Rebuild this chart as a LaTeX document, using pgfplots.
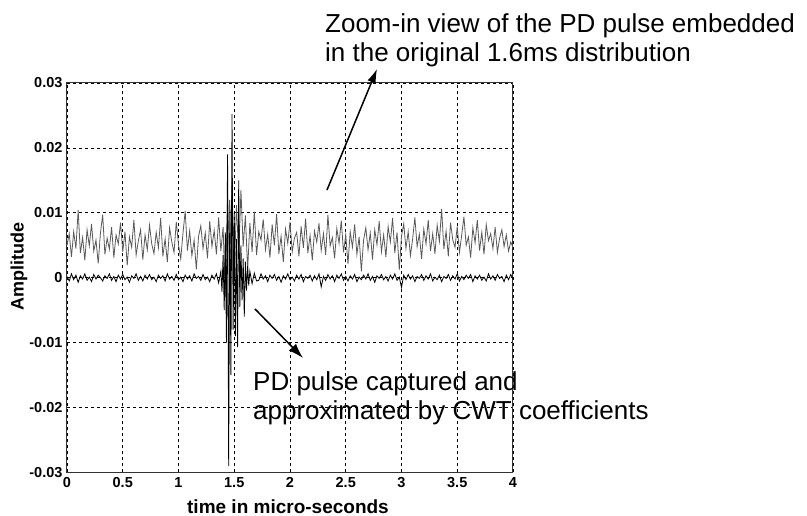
\documentclass[border=0pt]{standalone}
\usepackage{fontspec}
\setmainfont{Liberation Sans}
\usepackage{pgfplots}
\pgfplotsset{compat=1.18}
\usepackage{pgfplotstable}
\usetikzlibrary{arrows.meta}

% Recorded signal (offset trace), sampled every 0.02 us from 0 to 4 us
\pgfplotstableread[row sep=\\]{
y\\
0.0050\\ 0.0068\\ 0.0032\\ 0.0071\\ 0.0045\\ 0.0104\\ 0.0038\\ 0.0062\\ 0.0027\\ 0.0074\\
0.0049\\ 0.0083\\ 0.0041\\ 0.0058\\ 0.0022\\ 0.0069\\ 0.0097\\ 0.0036\\ 0.0061\\ 0.0044\\
0.0078\\ 0.0031\\ 0.0066\\ 0.0052\\ 0.0085\\ 0.0040\\ 0.0071\\ 0.0019\\ 0.0063\\ 0.0047\\
0.0089\\ 0.0035\\ 0.0057\\ 0.0074\\ 0.0028\\ 0.0066\\ 0.0043\\ 0.0081\\ 0.0052\\ 0.0037\\
0.0070\\ 0.0046\\ 0.0092\\ 0.0033\\ 0.0060\\ 0.0024\\ 0.0077\\ 0.0055\\ 0.0039\\ 0.0086\\
0.0051\\ 0.0029\\ 0.0068\\ 0.0103\\ 0.0042\\ 0.0072\\ 0.0034\\ 0.0058\\ 0.0013\\ 0.0064\\
0.0080\\ 0.0045\\ 0.0069\\ 0.0030\\ 0.0087\\ 0.0048\\ 0.0073\\ 0.0036\\ 0.0093\\ 0.0041\\
0.0078\\ -0.0030\\ 0.0125\\ 0.0020\\ 0.0148\\ 0.0005\\ 0.0112\\ 0.0032\\ 0.0135\\ 0.0048\\
0.0096\\ 0.0012\\ 0.0084\\ 0.0040\\ 0.0102\\ 0.0035\\ 0.0071\\ 0.0058\\ 0.0090\\ 0.0043\\
0.0067\\ 0.0031\\ 0.0082\\ 0.0050\\ 0.0098\\ 0.0037\\ 0.0064\\ 0.0024\\ 0.0075\\ 0.0053\\
0.0086\\ 0.0040\\ 0.0061\\ 0.0070\\ 0.0033\\ 0.0079\\ 0.0046\\ 0.0091\\ 0.0038\\ 0.0065\\
0.0027\\ 0.0072\\ 0.0055\\ 0.0084\\ 0.0042\\ 0.0068\\ 0.0035\\ 0.0097\\ 0.0049\\ 0.0062\\
0.0030\\ 0.0076\\ 0.0053\\ 0.0088\\ 0.0039\\ 0.0066\\ 0.0021\\ 0.0071\\ 0.0047\\ 0.0082\\
0.0036\\ 0.0063\\ 0.0010\\ 0.0058\\ 0.0077\\ 0.0043\\ 0.0069\\ 0.0028\\ 0.0074\\ 0.0051\\
0.0087\\ 0.0040\\ 0.0066\\ 0.0032\\ 0.0079\\ 0.0055\\ 0.0092\\ 0.0038\\ 0.0070\\ 0.0012\\
0.0064\\ 0.0083\\ 0.0045\\ 0.0071\\ 0.0034\\ 0.0060\\ 0.0093\\ 0.0048\\ 0.0067\\ 0.0029\\
0.0075\\ 0.0052\\ 0.0089\\ 0.0041\\ 0.0068\\ 0.0037\\ 0.0081\\ 0.0056\\ 0.0106\\ 0.0044\\
0.0072\\ 0.0033\\ 0.0085\\ 0.0058\\ 0.0047\\ 0.0079\\ 0.0039\\ 0.0066\\ 0.0094\\ 0.0050\\
0.0063\\ 0.0031\\ 0.0077\\ 0.0054\\ 0.0089\\ 0.0042\\ 0.0070\\ 0.0036\\ 0.0082\\ 0.0057\\
0.0068\\ 0.0045\\ 0.0078\\ 0.0039\\ 0.0061\\ 0.0074\\ 0.0048\\ 0.0066\\ 0.0041\\ 0.0055\\
0.0047\\
}\rawsignal

% CWT reconstruction of the PD pulse
\pgfplotstableread{
x y
0.00 0.0002
0.02 -0.0005
0.04 0.0006
0.06 -0.0003
0.08 0.0004
0.10 -0.0007
0.12 0.0003
0.14 -0.0002
0.16 0.0006
0.18 -0.0004
0.20 0.0001
0.22 -0.0006
0.24 0.0005
0.26 -0.0002
0.28 0.0004
0.30 0.0000
0.32 -0.0005
0.34 0.0003
0.36 -0.0001
0.38 0.0006
0.40 -0.0004
0.42 0.0002
0.44 -0.0006
0.46 0.0004
0.48 -0.0002
0.50 0.0005
0.52 -0.0003
0.54 0.0001
0.56 -0.0007
0.58 0.0003
0.60 -0.0001
0.62 0.0006
0.64 -0.0004
0.66 0.0002
0.68 -0.0005
0.70 0.0004
0.72 -0.0002
0.74 0.0005
0.76 -0.0003
0.78 0.0001
0.80 -0.0006
0.82 0.0004
0.84 -0.0001
0.86 0.0003
0.88 -0.0005
0.90 0.0006
0.92 -0.0002
0.94 0.0002
0.96 -0.0004
0.98 0.0005
1.00 -0.0003
1.02 0.0001
1.04 -0.0006
1.06 0.0004
1.08 -0.0002
1.10 0.0003
1.12 -0.0005
1.14 0.0006
1.16 -0.0001
1.18 0.0002
1.20 -0.0004
1.22 0.0005
1.24 -0.0003
1.26 0.0001
1.28 -0.0006
1.30 0.0004
1.32 -0.0002
1.34 0.0006
1.36 -0.0008
1.38 0.0010
1.39 -0.0022
1.40 0.0035
1.41 -0.0050
1.42 0.0070
1.43 -0.0100
1.44 0.0190
1.45 -0.0290
1.46 0.0120
1.47 -0.0150
1.48 0.0252
1.49 -0.0080
1.50 0.0100
1.51 -0.0090
1.52 0.0060
1.53 -0.0107
1.54 0.0150
1.55 -0.0045
1.56 0.0050
1.57 -0.0035
1.58 0.0030
1.59 -0.0060
1.60 0.0025
1.61 -0.0020
1.62 0.0018
1.63 -0.0012
1.64 0.0010
1.66 -0.0009
1.68 0.0007
1.70 -0.0005
1.72 -0.0004
1.74 0.0006
1.76 -0.0002
1.78 0.0003
1.80 -0.0006
1.82 0.0004
1.84 -0.0001
1.86 0.0005
1.88 -0.0004
1.90 0.0002
1.92 -0.0007
1.94 0.0003
1.96 -0.0002
1.98 0.0006
2.00 -0.0003
2.02 0.0001
2.04 -0.0005
2.06 0.0004
2.08 -0.0002
2.10 0.0005
2.12 -0.0006
2.14 0.0002
2.16 -0.0001
2.18 0.0004
2.20 -0.0005
2.22 0.0003
2.24 -0.0003
2.26 0.0006
2.28 -0.0014
2.30 0.0002
2.32 -0.0004
2.34 0.0005
2.36 -0.0002
2.38 0.0003
2.40 -0.0006
2.42 0.0004
2.44 -0.0001
2.46 0.0006
2.48 -0.0004
2.50 0.0002
2.52 -0.0005
2.54 0.0003
2.56 -0.0002
2.58 0.0005
2.60 -0.0006
2.62 0.0001
2.64 -0.0003
2.66 0.0004
2.68 -0.0002
2.70 0.0006
2.72 -0.0004
2.74 0.0002
2.76 -0.0007
2.78 0.0003
2.80 -0.0001
2.82 0.0005
2.84 -0.0003
2.86 0.0002
2.88 -0.0005
2.90 0.0004
2.92 -0.0002
2.94 0.0006
2.96 -0.0004
2.98 0.0001
3.00 -0.0015
3.02 0.0004
3.04 -0.0003
3.06 0.0005
3.08 -0.0002
3.10 0.0003
3.12 -0.0006
3.14 0.0002
3.16 -0.0001
3.18 0.0005
3.20 -0.0004
3.22 0.0003
3.24 -0.0002
3.26 0.0006
3.28 -0.0005
3.30 0.0001
3.32 -0.0003
3.34 0.0004
3.36 -0.0006
3.38 0.0002
3.40 -0.0001
3.42 0.0005
3.44 -0.0004
3.46 0.0003
3.48 -0.0002
3.50 0.0006
3.52 -0.0005
3.54 0.0002
3.56 -0.0003
3.58 0.0004
3.60 -0.0001
3.62 0.0005
3.64 -0.0006
3.66 0.0003
3.68 -0.0002
3.70 0.0004
3.72 -0.0004
3.74 0.0001
3.76 -0.0005
3.78 0.0006
3.80 -0.0002
3.82 0.0003
3.84 -0.0004
3.86 0.0005
3.88 -0.0001
3.90 0.0002
3.92 -0.0006
3.94 0.0004
3.96 -0.0003
3.98 0.0005
4.00 -0.0002
}\cwtpulse

\begin{document}
\begin{tikzpicture}[x=1pt,y=1pt]
\path[use as bounding box] (0,0) rectangle (807,516);
\begin{axis}[
  at={(67pt,43.5pt)}, anchor=south west,
  scale only axis, width=446pt, height=389.5pt,
  xmin=0, xmax=4, ymin=-0.03, ymax=0.03,
  scaled y ticks=false, scaled x ticks=false,
  xtick={0,0.5,...,4},
  xticklabels={0,0.5,1,1.5,2,2.5,3,3.5,4},
  ytick={-0.03,-0.02,-0.01,0,0.01,0.02,0.03},
  yticklabels={-0.03,-0.02,-0.01,0,0.01,0.02,0.03},
  /pgf/number format/assume math mode=true,
  tick label style={font=\fontsize{14.5}{16}\selectfont\bfseries},
  xticklabel style={yshift=-1pt},
  yticklabel style={xshift=-1pt},
  xlabel={time in micro-seconds},
  ylabel={Amplitude},
  every axis x label/.style={at={(axis description cs:0.4955,-0.104)},
    anchor=base, inner sep=0pt, font=\fontsize{19}{21}\selectfont\bfseries},
  every axis y label/.style={at={(axis description cs:-0.1076,0.528)},
    anchor=center, rotate=90, inner sep=0pt, font=\fontsize{18}{20}\selectfont\bfseries},
  grid=major,
  major grid style={black, line width=0.7pt, dash pattern=on 3pt off 3pt},
  tick style={draw=none},
  axis line style={black!80, line width=1pt},
  clip=true,
]
\addplot[gray!70!black, line width=0.8pt] table[x expr=\coordindex*0.02, y=y] {\rawsignal};
\addplot[black, line width=0.8pt] table[x=x, y=y] {\cwtpulse};
\end{axis}

% annotations
\node[anchor=base west, inner sep=0pt, font=\fontsize{26}{29}\selectfont] at (325,483) {Zoom-in view of the PD pulse embedded};
\node[anchor=base west, inner sep=0pt, font=\fontsize{26}{29}\selectfont] at (325,454) {in the original 1.6ms distribution};
\draw[line width=1.5pt, -{Latex[length=14pt,width=9pt]}] (327,326) -- (377,447);

\node[anchor=base west, inner sep=0pt, font=\fontsize{26}{29}\selectfont] at (253,125) {PD pulse captured and};
\node[anchor=base west, inner sep=0pt, font=\fontsize{26}{29}\selectfont] at (253,96) {approximated by CWT coefficients};
\draw[line width=1.5pt, -{Latex[length=15pt,width=10pt]}] (255,207) -- (303,158);
\end{tikzpicture}
\end{document}
